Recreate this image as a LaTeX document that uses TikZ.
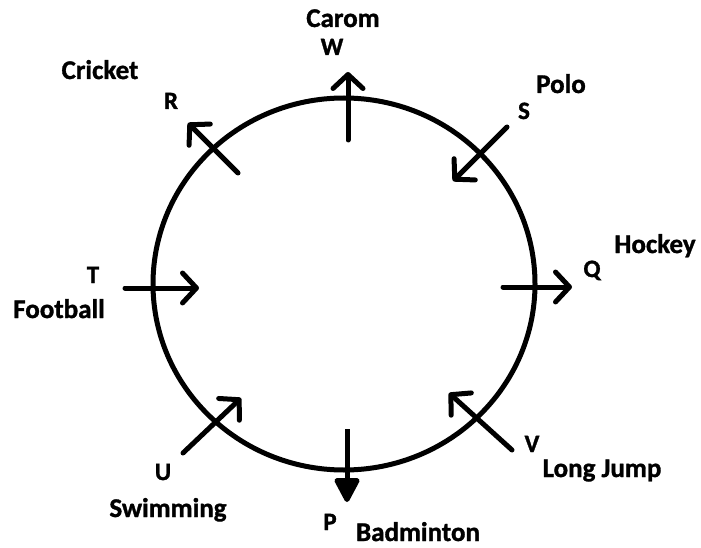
\documentclass[tikz,border=0pt]{standalone}
\usepackage{fontspec}
\setmainfont{Carlito}[BoldFeatures={FakeBold=1.2}]
\usetikzlibrary{arrows.meta}
\begin{document}
\begin{tikzpicture}[x=1pt,y=-1pt,
  lbl/.style={font=\fontsize{27}{32}\selectfont\bfseries, anchor=base, inner sep=0pt},
  ltr/.style={font=\fontsize{25}{30}\selectfont\bfseries, anchor=base, inner sep=0pt},
  arr/.style={line width=5pt, line cap=round, -{Straight Barb[length=14pt,width=30pt,line width=5pt,round]}},
  arrP/.style={line width=5pt, -{Triangle[length=27pt,width=27pt,round]}}]
\useasboundingbox (0,0) rectangle (701,548);
\draw[line width=5pt] (344,284) ellipse [x radius=191, y radius=186];
% coordinates
\coordinate (Wt) at (348,140); \coordinate (Wh) at (348,72);
\coordinate (Rt) at (238,173); \coordinate (Rh) at (188,123);
\coordinate (St) at (507,127); \coordinate (Sh) at (453,181);
\coordinate (Tt) at (125,288); \coordinate (Th) at (199,288);
\coordinate (Qt) at (503,287); \coordinate (Qh) at (572,287);
\coordinate (Ut) at (183,453); \coordinate (Uh) at (241,398);
\coordinate (Vt) at (512,450); \coordinate (Vh) at (449,393);
\coordinate (Pt) at (347,429); \coordinate (Ph) at (347,502);
\draw[arr] (Wt) -- (Wh);
\draw[arr] (Rt) -- (Rh);
\draw[arr] (St) -- (Sh);
\draw[arr] (Tt) -- (Th);
\draw[arr] (Qt) -- (Qh);
\draw[arr] (Ut) -- (Uh);
\draw[arr] (Vt) -- (Vh);
\draw[arrP] (Pt) -- (Ph);
% labels
\node[lbl] (carom) at (343,27) {Carom};
\node[ltr] (W) at (332,55) {W};
\node[lbl] (cricket) at (100,79) {Cricket};
\node[ltr] (R) at (171,109) {R};
\node[lbl] (polo) at (561,93) {Polo};
\node[ltr] (S) at (524,119) {S};
\node[ltr] (T) at (93,283) {T};
\node[lbl] (football) at (59,318) {Football};
\node[ltr] (Q) at (592,277) {Q};
\node[lbl] (hockey) at (655,253) {Hockey};
\node[ltr] (U) at (163,480) {U};
\node[lbl] (swimming) at (168,517) {Swimming};
\node[ltr] (V) at (532,452) {V};
\node[lbl] (longjump) at (602,477) {Long Jump};
\node[ltr] (P) at (330,530) {P};
\node[lbl] (badminton) at (418,541) {Badminton};
\end{tikzpicture}
\end{document}
